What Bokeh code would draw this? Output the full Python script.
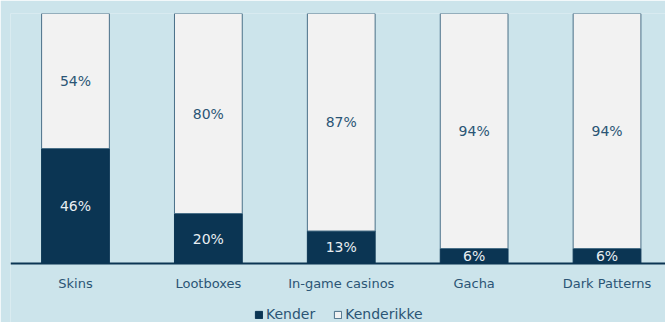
from bokeh.plotting import figure
from bokeh.models import ColumnDataSource, Range1d, Legend, LegendItem, LabelSet, Span
from bokeh.core.properties import value
from bokeh.embed import file_html
from bokeh.resources import INLINE

categories = ["Skins", "Lootboxes", "In-game casinos", "Gacha", "Dark Patterns"]
kender = [46, 20, 13, 6, 6]
kender_ikke = [54, 80, 87, 94, 94]
series_names = ["Kender", "Kenderikke"]

BG = "#cce4eb"
NAVY = "#0b3553"
LIGHT = "#f2f2f2"
TXT = "#2b5575"
FONT = "DejaVu Sans"

xs = list(range(len(categories)))
src = ColumnDataSource(dict(
    x=xs, k=kender, ik=kender_ikke,
    kmid=[v / 2 for v in kender],
    ikmid=[a + b / 2 for a, b in zip(kender, kender_ikke)],
    klab=[f"{v}%" for v in kender],
    iklab=[f"{v}%" for v in kender_ikke],
    top=[a + b for a, b in zip(kender, kender_ikke)],
    cat=categories,
    caty=[-8] * len(categories),
))

p = figure(width=665, height=322, output_backend="svg", toolbar_location=None,
           x_range=Range1d(-0.489, 4.44), y_range=Range1d(-23.6, 100),
           min_border_left=10, min_border_right=0, min_border_top=13, min_border_bottom=0,
           x_axis_location=None, y_axis_location=None)
p.background_fill_color = BG
p.border_fill_color = BG
p.outline_line_color = None
p.grid.visible = False

r1 = p.vbar(x="x", bottom=0, top="k", width=0.51, source=src,
            fill_color=NAVY, line_color=NAVY, line_width=1)
r2 = p.vbar(x="x", bottom="k", top="top", width=0.51, source=src,
            fill_color=LIGHT, line_color="#4a7088", line_width=1)

p.add_layout(Span(location=0, dimension="width", line_color=NAVY, line_width=2))

p.add_layout(LabelSet(x="x", y="kmid", text="klab", source=src, text_align="center",
                      text_baseline="middle", text_color="#e8eef2", text_font=value(FONT),
                      text_font_size="14px"))
p.add_layout(LabelSet(x="x", y="ikmid", text="iklab", source=src, text_align="center",
                      text_baseline="middle", text_color=TXT, text_font=value(FONT),
                      text_font_size="14px"))
p.add_layout(LabelSet(x="x", y="caty", text="cat", source=src, text_align="center",
                      text_baseline="middle", text_color=TXT, text_font=value(FONT),
                      text_font_size="13px"))

legend = Legend(items=[LegendItem(label=series_names[0], renderers=[r1]),
                       LegendItem(label=series_names[1], renderers=[r2])],
                orientation="horizontal", location=(244, 0),
                background_fill_alpha=0, border_line_color=None,
                label_text_font=FONT, label_text_font_size="14px", label_text_color=TXT,
                glyph_width=9, glyph_height=9, spacing=18, label_standoff=3,
                padding=0, margin=0, label_height=14)
p.add_layout(legend)

open("out.html", "w").write(file_html(p, INLINE))
